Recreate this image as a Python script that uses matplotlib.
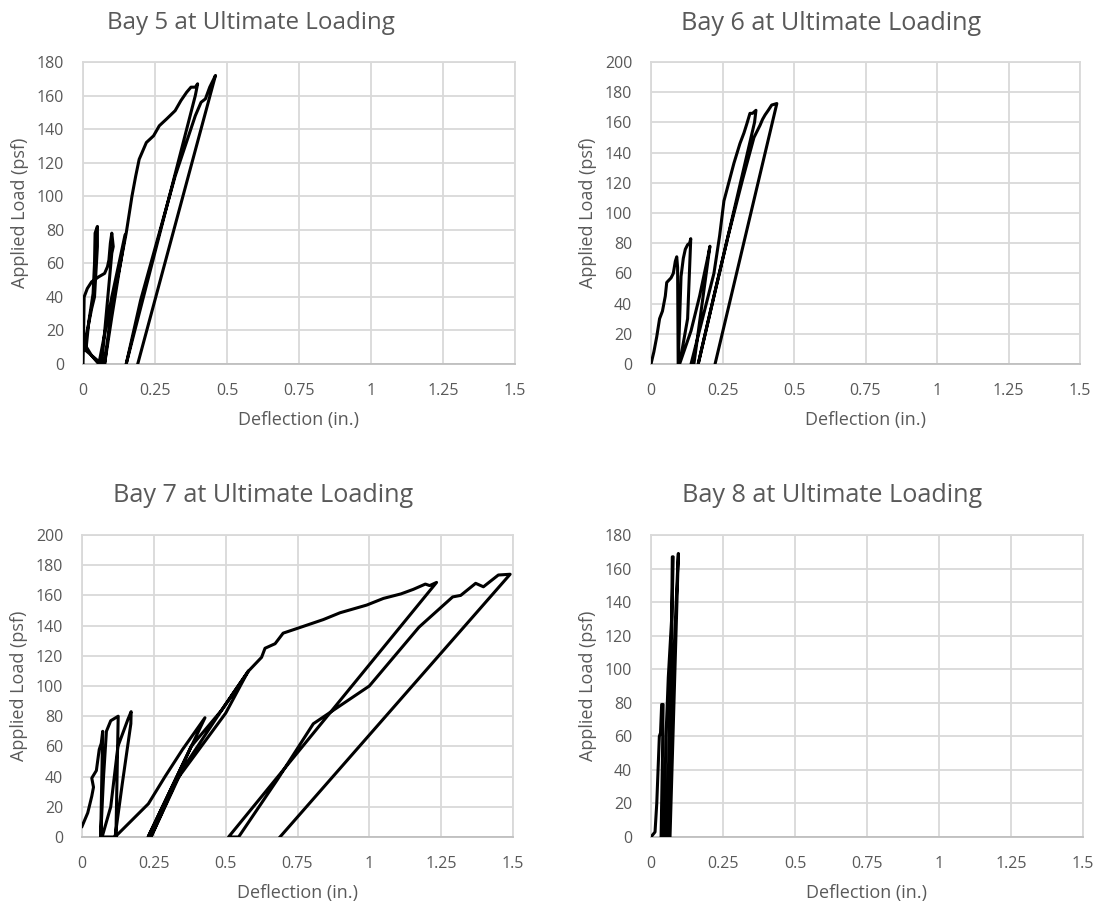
import matplotlib
matplotlib.use("Agg")
import matplotlib.pyplot as plt

plt.rcParams["font.family"] = ["Open Sans", "DejaVu Sans"]

TEXT = "#595959"
GRID = "#d9d9d9"

# ---- Bay 5: deflection (in.) and applied load (psf), in recording order ----
bay5_defl = [0, 0.002, 0.004, 0.015, 0.03, 0.055, 0.075, 0.085, 0.09, 0.095, 0.1, 0.105, 0.1, 0.065,
             0.01, 0.02, 0.035, 0.04, 0.042, 0.05, 0.05, 0.04, 0.03, 0.015, 0.005, 0.03, 0.055,
             0.1, 0.146, 0.1, 0.075,
             0.1, 0.13, 0.15, 0.17, 0.183, 0.195, 0.205, 0.22, 0.245, 0.265, 0.29, 0.32, 0.34, 0.36,
             0.375, 0.39, 0.398, 0.39, 0.15,
             0.2, 0.255, 0.32, 0.39, 0.41, 0.425, 0.44, 0.46, 0.19]
bay5_load = [0, 18, 40, 45, 49, 52, 54, 58, 62, 72, 78, 70, 66, 0,
             8, 25, 42, 60, 78, 82, 70, 40, 33, 20, 12, 5, 0,
             40, 77, 28, 0,
             35, 60, 78, 100, 112, 122, 126, 132, 136, 142, 146, 151, 157, 162,
             165, 165, 167, 160, 0,
             38, 72, 112, 148, 156, 158, 165, 172, 0]

# ---- Bay 6 ----
bay6_defl = [0, 0.01, 0.02, 0.03, 0.04, 0.05, 0.055, 0.07, 0.078, 0.085, 0.09, 0.093, 0.095,
             0.105, 0.113, 0.12, 0.128, 0.135, 0.139, 0.128, 0.1,
             0.14, 0.17, 0.2, 0.206, 0.15,
             0.14, 0.18, 0.22, 0.24, 0.255, 0.262, 0.276, 0.29, 0.311, 0.325, 0.335, 0.346, 0.355,
             0.367, 0.362, 0.165,
             0.22, 0.27, 0.32, 0.36, 0.381, 0.39, 0.399, 0.41, 0.422, 0.44, 0.224]
bay6_load = [0, 8, 18, 30, 35, 45, 54, 57, 60, 68, 71, 64, 0,
             58, 70, 76, 79, 80, 83, 30, 0,
             22, 45, 72, 78, 0,
             0, 30, 60, 85, 108, 113, 123, 133, 146, 153, 159, 166, 166,
             168, 160, 0,
             45, 85, 122, 150, 158, 162, 165, 168, 171.5, 172.5, 0]

# ---- Bay 7 ----
bay7_defl = [0, 0.02, 0.034, 0.04, 0.034, 0.05, 0.06, 0.067, 0.072, 0.065,
             0.075, 0.085, 0.1, 0.126, 0.118,
             0.07, 0.1, 0.125, 0.16, 0.171, 0.17, 0.14, 0.115,
             0.231, 0.289, 0.35, 0.428, 0.23,
             0.3, 0.38, 0.486, 0.579, 0.5, 0.33, 0.24,
             0.35, 0.486, 0.58, 0.625, 0.637, 0.672, 0.70, 0.747, 0.84, 0.898, 0.991, 1.049, 1.11,
             1.153, 1.195, 1.21, 1.234, 0.51,
             0.545, 0.68, 0.805, 1.0, 1.173, 1.29, 1.318, 1.37, 1.397, 1.449, 1.49, 0.689]
bay7_load = [7, 16, 27, 33, 39, 44, 58, 62, 70, 0,
             40, 70, 77, 80, 0,
             0, 20, 60, 78, 83, 75, 35, 0,
             22, 40, 58, 79, 0,
             28, 60, 84, 110, 82, 38, 0,
             45, 84, 110, 119, 125, 128, 135, 138, 144, 148.5, 153.6, 158, 161,
             164, 167.5, 166.5, 168.6, 0,
             0, 38, 75, 100, 139, 159, 160, 168, 165.7, 173.5, 174, 0]

# ---- Bay 8 ----
bay8_defl = [0, 0.014, 0.02, 0.029, 0.033, 0.037, 0.042, 0.04, 0.035,
             0.045, 0.052, 0.056, 0.06, 0.066, 0.07, 0.072, 0.073, 0.074, 0.077, 0.07, 0.055,
             0.058, 0.07, 0.08, 0.09, 0.095, 0.066]
bay8_load = [0, 3, 20, 60, 62, 79, 79, 50, 0,
             0, 60, 77, 95, 113, 125, 131, 150, 167, 167, 110, 0,
             0, 60, 110, 150, 169, 0]

x_ticks = [0, 0.25, 0.5, 0.75, 1, 1.25, 1.5]
x_tick_labels = ["0", "0.25", "0.5", "0.75", "1", "1.25", "1.5"]

panels = [
    ("Bay 5 at Ultimate Loading", bay5_defl, bay5_load, 180),
    ("Bay 6 at Ultimate Loading", bay6_defl, bay6_load, 200),
    ("Bay 7 at Ultimate Loading", bay7_defl, bay7_load, 200),
    ("Bay 8 at Ultimate Loading", bay8_defl, bay8_load, 180),
]

W, H = 1098, 905
fig = plt.figure(figsize=(W / 100, H / 100), dpi=100)

# axes boxes in pixels: left, right, top, bottom
boxes = [(83, 515, 62, 364), (651, 1080, 62, 364),
         (82, 513, 535, 837), (651, 1083, 535, 837)]
# title centre x and baseline y, in pixels
title_pos = [(251, 29), (831, 30), (263, 502), (832, 502)]
title_size = [17.4, 18.2, 18.2, 18.2]

for (title, xs, ys, ymax), (l, r, t, b), (tx, ty), ts in zip(panels, boxes, title_pos, title_size):
    ax = fig.add_axes([l / W, 1 - b / H, (r - l) / W, (b - t) / H])
    ax.plot(xs, ys, color="black", lw=2.2, solid_joinstyle="round", zorder=3)
    ax.set_xlim(0, 1.5)
    ax.set_ylim(0, ymax)
    ax.set_xticks(x_ticks)
    ax.set_xticklabels(x_tick_labels)
    ax.set_yticks(range(0, ymax + 1, 20))
    ax.grid(True, color=GRID, lw=1.3)
    ax.set_axisbelow(True)
    for sp in ax.spines.values():
        sp.set_color(GRID)
        sp.set_linewidth(1.3)
    ax.spines["bottom"].set_color("#bfbfbf")
    ax.tick_params(length=0, labelsize=11.5, labelcolor=TEXT)
    ax.tick_params(axis="x", pad=14)
    ax.tick_params(axis="y", pad=13.5)
    ax.set_xlabel("Deflection (in.)", fontsize=13, color=TEXT, labelpad=8)
    ax.set_ylabel("Applied Load (psf)", fontsize=13, color=TEXT, labelpad=6)
    fig.text(tx / W, 1 - ty / H, title, ha="center", va="baseline",
             fontsize=ts, color=TEXT)

fig.savefig("out.png", dpi=100)
